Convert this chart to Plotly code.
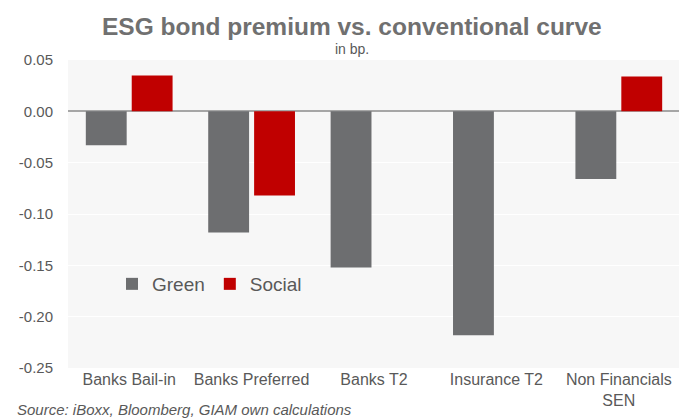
import plotly.graph_objects as go

categories = ["Banks Bail-in", "Banks Preferred", "Banks T2", "Insurance T2", "Non Financials<br>SEN"]
green = [-0.033, -0.118, -0.152, -0.218, -0.066]
social = [0.035, -0.082, None, None, 0.034]
tick_vals = [0.05, 0.00, -0.05, -0.10, -0.15, -0.20, -0.25]
tick_text = ["0.05", "0.00", "-0.05", "-0.10", "-0.15", "-0.20", "-0.25"]

FONT = "Liberation Sans, Arial, sans-serif"
TXT = "#595959"

# page body adds an 8px offset; figure coordinates = screen - 8
W, H = 679, 410
ML, MR, MT, MB = 60, 7, 52, 50
plot_w = W - ML - MR
plot_h = H - MT - MB

def px(xs):
    return (xs - 8 - ML) / plot_w

def py(ys):
    return (H - MB - (ys - 8)) / plot_h

fig = go.Figure()
fig.add_trace(go.Bar(name="Green", x=categories, y=green, marker=dict(color="#6d6e70", line=dict(width=0))))
fig.add_trace(go.Bar(name="Social", x=categories, y=social, marker=dict(color="#c00000", line=dict(width=0))))

fig.update_layout(
    width=W, height=H,
    margin=dict(l=ML, r=MR, t=MT, b=MB, autoexpand=False),
    paper_bgcolor="white",
    plot_bgcolor="#f7f7f7",
    barmode="group",
    bargap=0.25,
    bargroupgap=0.11,
    font=dict(family=FONT, color=TXT, size=15),
    showlegend=True,
    legend=dict(orientation="h", x=px(112), y=py(284), xanchor="left", yanchor="middle",
                bgcolor="rgba(0,0,0,0)", font=dict(size=19, color=TXT), itemwidth=30,
                traceorder="normal"),
    xaxis=dict(showgrid=False, ticks="", tickfont=dict(size=16, color=TXT), showline=False),
    yaxis=dict(range=[-0.25, 0.05], tickvals=tick_vals, ticktext=tick_text,
               showgrid=True, gridcolor="white", gridwidth=1,
               zeroline=True, zerolinecolor="#a6a6a6", zerolinewidth=2,
               tickfont=dict(size=15, color=TXT), ticks="", ticklabelstandoff=14),
)

fig.add_annotation(text="<b>ESG bond premium vs. conventional curve</b>", x=px(352), y=py(27),
                   xref="paper", yref="paper", showarrow=False, xanchor="center", yanchor="middle",
                   font=dict(size=24.5, color="#707070"))
fig.add_annotation(text="in bp.", x=px(352), y=py(49), xref="paper", yref="paper", showarrow=False,
                   xanchor="center", yanchor="middle", font=dict(size=14, color=TXT))
fig.add_annotation(text="<i>Source: iBoxx, Bloomberg, GIAM own calculations</i>", x=px(15), y=py(409),
                   xref="paper", yref="paper", showarrow=False, xanchor="left", yanchor="middle",
                   font=dict(size=15, color=TXT))

fig.write_html("out.html")
